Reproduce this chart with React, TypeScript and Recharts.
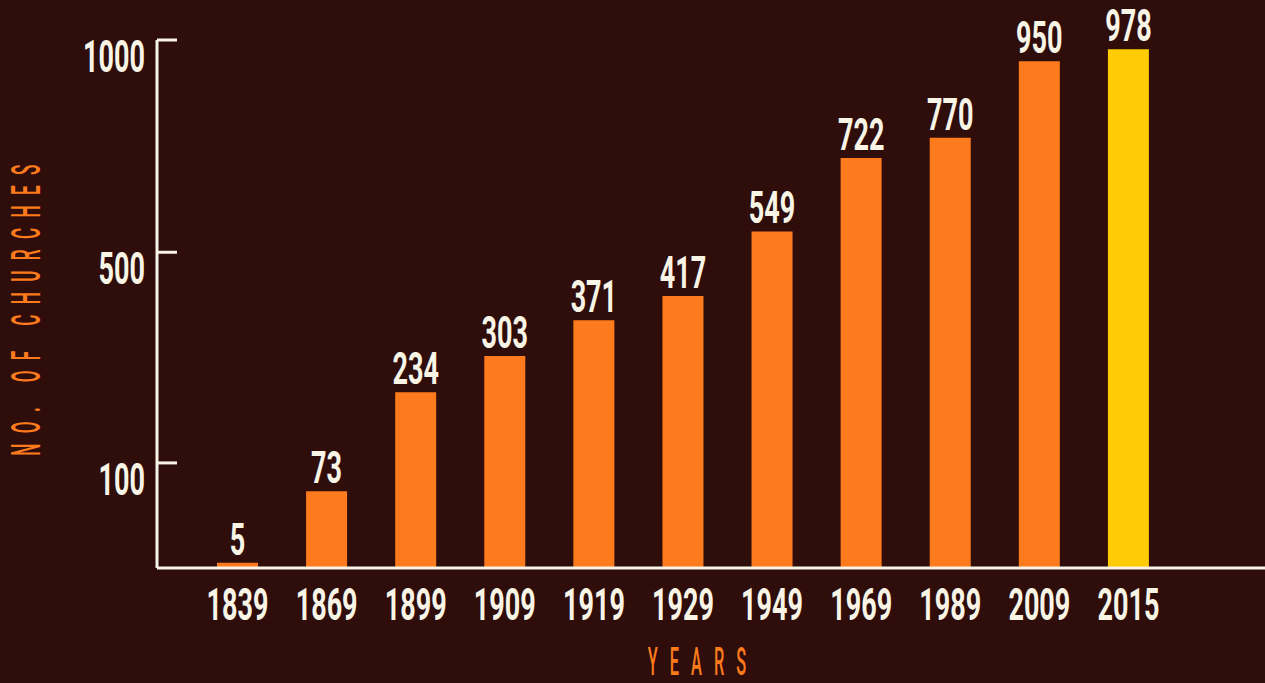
import { BarChart, Bar, XAxis, YAxis, Cell, LabelList, Label } from "recharts";

const years = ["1839", "1869", "1899", "1909", "1919", "1929", "1949", "1969", "1989", "2009", "2015"];
const churches = [5, 73, 234, 303, 371, 417, 549, 722, 770, 950, 978];
const yTicks = [100, 500, 1000];

// the printed axis is not linear: 0-100 takes ~20% of the height, 100-500 and 500-1000 ~40% each
const warpStops = [0, 100, 500, 1000];
const warpPos = [0, 0.199, 0.598, 1];

const BG = "#2e0d0b";
const AXIS = "#f8f4e6";
const ORANGE = "#fd7b1c";
const YELLOW = "#fecb05";
const NUM_FONT = "Roboto, 'DejaVu Sans', sans-serif";

const data = years.map((year, i) => ({ year, value: churches[i] }));

const warp = (v: number) => {
  if (v <= warpStops[0]) return warpPos[0];
  for (let i = 1; i < warpStops.length; i++) {
    if (v <= warpStops[i]) {
      const t = (v - warpStops[i - 1]) / (warpStops[i] - warpStops[i - 1]);
      return warpPos[i - 1] + t * (warpPos[i] - warpPos[i - 1]);
    }
  }
  return warpPos[warpPos.length - 1];
};

function warpScale(): any {
  let dom: number[] = [0, 1000];
  let rng: number[] = [0, 1];
  const scale: any = (v: number) => {
    const a = warp(dom[0]);
    const b = warp(dom[dom.length - 1]);
    const t = (warp(v) - a) / (b - a);
    return rng[0] + t * (rng[rng.length - 1] - rng[0]);
  };
  scale.domain = (d?: number[]) => {
    if (d === undefined) return dom.slice();
    dom = d.map(Number);
    return scale;
  };
  scale.range = (r?: number[]) => {
    if (r === undefined) return rng.slice();
    rng = r.map(Number);
    return scale;
  };
  scale.ticks = () => yTicks;
  scale.tickFormat = () => (v: number) => String(v);
  scale.copy = () => warpScale().domain(dom).range(rng);
  return scale;
}

const YTick = (props: any) => {
  const { x, y, payload } = props;
  return (
    <g>
      <line x1={x + 12} x2={x + 32} y1={y} y2={y} stroke={AXIS} strokeWidth={3} />
      <text
        transform={`translate(${x},${y + 32}) scale(0.6,1)`}
        textAnchor="end"
        fill={AXIS}
        fontFamily={NUM_FONT}
        fontWeight={700}
        fontSize={45}
      >
        {payload.value}
      </text>
    </g>
  );
};

const XTick = (props: any) => {
  const { x, y, payload } = props;
  return (
    <text
      transform={`translate(${x},${y + 32}) scale(0.6,1)`}
      textAnchor="middle"
      fill={AXIS}
      fontFamily={NUM_FONT}
      fontWeight={700}
      fontSize={45}
    >
      {payload.value}
    </text>
  );
};

const ValueLabel = (props: any) => {
  const { x, y, width, value } = props;
  return (
    <text
      transform={`translate(${x + width / 2},${y - 8}) scale(0.6,1)`}
      textAnchor="middle"
      fill={AXIS}
      fontFamily={NUM_FONT}
      fontWeight={700}
      fontSize={45}
    >
      {value}
    </text>
  );
};

const YTitle = (props: any) => {
  const { viewBox } = props;
  const cy = viewBox.y + viewBox.height / 2 + 1;
  return (
    <text
      transform={`translate(26,${cy}) rotate(-90) scale(0.43,1) translate(0,14)`}
      textAnchor="middle"
      fill={ORANGE}
      fontFamily="Roboto, sans-serif"
      fontWeight={500}
      fontSize={40}
      letterSpacing={24}
    >
      NO. OF CHURCHES
    </text>
  );
};

const XTitle = (props: any) => {
  const { viewBox } = props;
  return (
    <text
      transform={`translate(${viewBox.x + viewBox.width / 2 - 8},675) scale(0.43,1)`}
      textAnchor="middle"
      fill={ORANGE}
      fontFamily="Roboto, sans-serif"
      fontWeight={500}
      fontSize={38}
      letterSpacing={28}
    >
      YEARS
    </text>
  );
};

export default function App() {
  return (
    <div style={{ position: "fixed", left: 0, top: 0, width: 1265, height: 683, background: BG, overflow: "hidden" }}>
      <BarChart width={1265} height={683} data={data} margin={{ top: 40, right: 0, bottom: 0, left: 0 }} barSize={41}>
        <XAxis
          dataKey="year"
          height={115}
          padding={{ left: 36, right: 92 }}
          axisLine={{ stroke: AXIS, strokeWidth: 3 }}
          tickLine={false}
          tickSize={0}
          tickMargin={20}
          tick={<XTick />}
          interval={0}
        >
          <Label content={<XTitle />} />
        </XAxis>
        <YAxis
          type="number"
          width={157}
          domain={[0, 1000]}
          ticks={yTicks}
          scale={warpScale()}
          allowDataOverflow
          axisLine={{ stroke: AXIS, strokeWidth: 3 }}
          tickLine={false}
          tickSize={0}
          tickMargin={12}
          tick={<YTick />}
          interval={0}
        >
          <Label content={<YTitle />} />
        </YAxis>
        <Bar dataKey="value" isAnimationActive={false}>
          {data.map((d, i) => (
            <Cell key={d.year} fill={i === data.length - 1 ? YELLOW : ORANGE} />
          ))}
          <LabelList dataKey="value" content={<ValueLabel />} />
        </Bar>
      </BarChart>
    </div>
  );
}
